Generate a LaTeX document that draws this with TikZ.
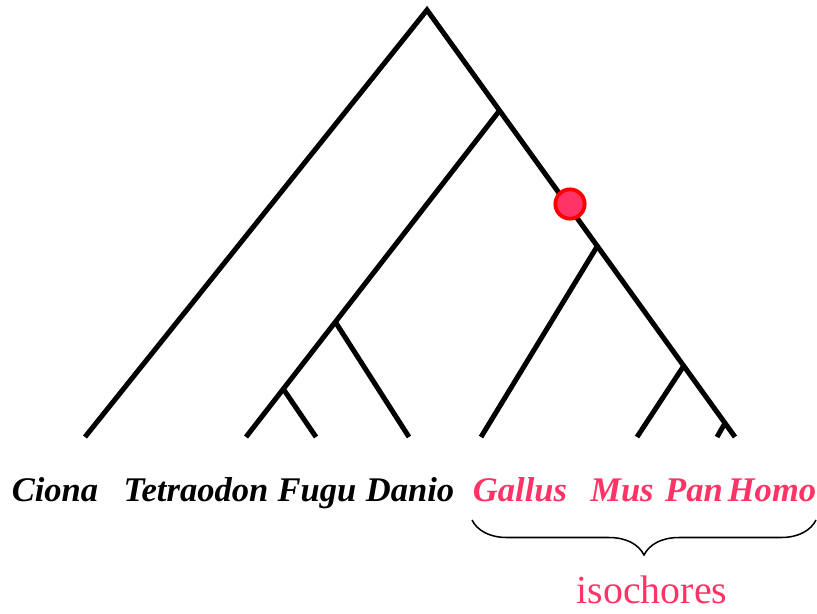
\documentclass[tikz,border=0pt]{standalone}
\usepackage{fontspec}
\setmainfont{Liberation Serif}
\usetikzlibrary{decorations.pathreplacing}
\definecolor{Rose}{HTML}{FF3366}
\definecolor{DotRed}{HTML}{FF0000}

\begin{document}
\begin{tikzpicture}[x=0.03cm,y=-0.03cm,
  branch/.style={line width=4.3pt,line cap=butt},
  taxon/.style={anchor=base,inner sep=0pt,font=\fontsize{29.5}{32}\selectfont\bfseries\itshape},
  iso/.style={taxon,text=Rose},
  dot/.style={circle,fill=Rose,draw=DotRed,line width=3.2pt,minimum size=0.88cm,inner sep=0pt}
]
  \path[use as bounding box] (0,0) rectangle (817,613);

  % tree points
  \coordinate (root) at (427,10);
  \coordinate (fish) at (500,110);
  \coordinate (tf)   at (336,323);
  \coordinate (tt)   at (284,390);
  \coordinate (amn)  at (598,245);
  \coordinate (mam)  at (683,367);
  \coordinate (hp)   at (725,423);

  \coordinate (ciona)     at (85,437);
  \coordinate (tetraodon) at (246,437);
  \coordinate (fugu)      at (316,437);
  \coordinate (danio)     at (409,437);
  \coordinate (gallus)    at (481,437);
  \coordinate (mus)       at (637,437);
  \coordinate (pan)       at (717,437);
  \coordinate (homo)      at (735,437);

  \draw[branch] (ciona) -- (root) -- (homo);
  \draw[branch] (fish) -- (tetraodon);
  \draw[branch] (tt) -- (fugu);
  \draw[branch] (tf) -- (danio);
  \draw[branch] (amn) -- (gallus);
  \draw[branch] (mam) -- (mus);
  \draw[branch] (hp) -- (pan);

  \node[dot] (event) at (570,204) {};

  % leaf names
  \node[taxon] (lciona) at (55,501) {Ciona};
  \node[taxon] (ltetra) at (196,501) {Tetraodon};
  \node[taxon] (lfugu)  at (317,501) {Fugu};
  \node[taxon] (ldanio) at (410,501) {Danio};
  \node[iso] (lgallus) at (520,501) {Gallus};
  \node[iso] (lmus)    at (622,501) {Mus};
  \node[iso] (lpan)    at (694,501) {Pan};
  \node[iso] (lhomo)   at (772,501) {Homo};

  \coordinate (bl) at (472,520);
  \coordinate (br) at (816,520);
  \draw[line width=1.3pt,decorate,decoration={brace,mirror,amplitude=1.05cm}] (bl) -- (br);
  \node[anchor=base,inner sep=0pt,text=Rose,font=\fontsize{34}{38}\selectfont] (lisoch) at (652,603) {isochores};
\end{tikzpicture}
\end{document}
